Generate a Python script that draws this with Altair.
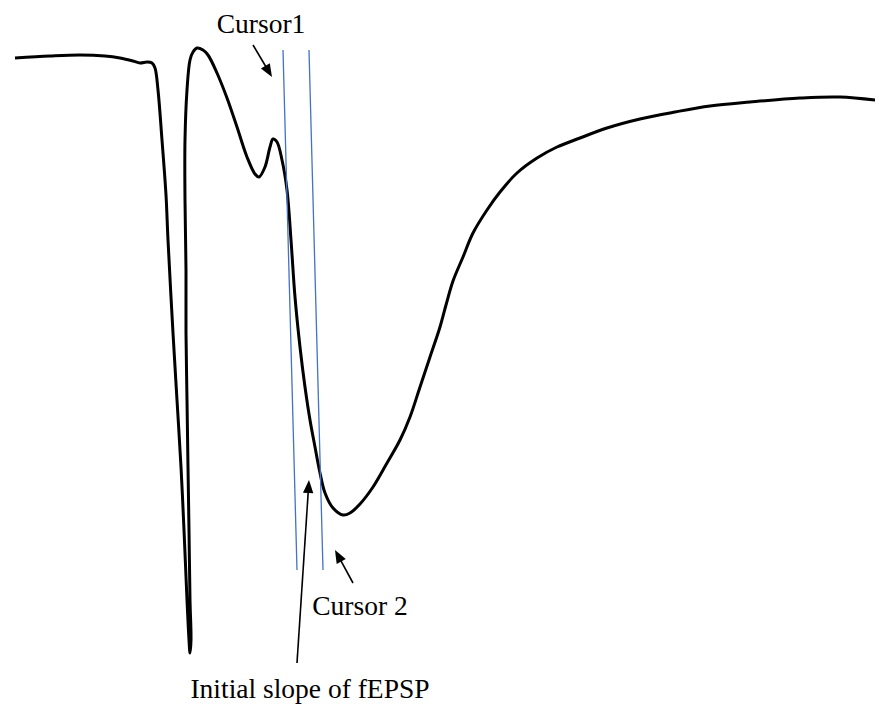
import math
import altair as alt
import pandas as pd

# ---- field potential trace (schematic units ~ picture pixels) ----
trace_x = [15, 50, 80, 105, 120, 133, 140, 147, 152, 155, 158, 162, 166, 168,
           173, 177, 181, 184, 187, 189, 190, 191, 190, 189, 188, 187, 186, 186,
           185, 185, 187, 190, 193, 197, 203, 208, 217, 227, 237, 247, 255, 259,
           265, 270, 273, 277, 282, 287, 291, 295, 300, 305, 310, 315, 320, 325,
           333, 343, 350, 360, 373, 387, 400, 410, 420, 430, 440, 446, 453, 463,
           473, 487, 500, 517, 537, 557, 580, 607, 640, 675, 710, 750, 800, 840,
           883]
trace_y = [58, 56, 55, 56, 58, 61, 63, 62, 63, 68, 90, 140, 195, 240,
           333, 400, 467, 530, 600, 640, 653, 640, 600, 530, 467, 400, 333, 270,
           200, 140, 90, 60, 52, 48, 50, 55, 73, 98, 127, 157, 174, 177,
           167, 147, 139, 142, 160, 190, 240, 297, 347, 387, 420, 447, 473, 493,
           508, 515, 513, 504, 487, 463, 440, 417, 387, 357, 327, 305, 281, 257,
           233, 210, 192, 173, 158, 147, 138, 128, 119, 112, 106, 102, 98, 97,
           101]

# ---- cursors ----
cursor_names = ["Cursor1", "Cursor 2"]
cursor_x_top = [283, 309]
cursor_y_top = [50, 50]
cursor_x_bottom = [297, 323]
cursor_y_bottom = [570, 570]

# ---- labels ----
label_text = ["Cursor1", "Cursor 2", "Initial slope of fEPSP"]
label_x = [261, 360, 310]
label_y = [33, 615, 698]

# ---- arrows (tail -> tip) ----
arrow_tail_x = [253, 353, 297]
arrow_tail_y = [45, 583, 663]
arrow_tip_x = [272, 335, 309]
arrow_tip_y = [77, 550, 480]

W, H = 867, 696
M = 8
HEAD_HALF = 6.5

trace = pd.DataFrame({"i": range(len(trace_x)), "x": trace_x, "y": trace_y})
cursors = pd.DataFrame({"name": cursor_names, "x": cursor_x_top, "y": cursor_y_top,
                        "x2": cursor_x_bottom, "y2": cursor_y_bottom})
labels = pd.DataFrame({"t": label_text, "x": label_x, "y": label_y})

shafts, heads = [], []
for tx, ty, px, py in zip(arrow_tail_x, arrow_tail_y, arrow_tip_x, arrow_tip_y):
    dx, dy = px - tx, py - ty
    L = math.hypot(dx, dy)
    ux, uy = dx / L, dy / L
    ang = math.degrees(math.atan2(ux, -uy)) % 360
    shafts.append({"x": tx, "y": ty, "x2": px - ux * 2 * HEAD_HALF * 0.85,
                   "y2": py - uy * 2 * HEAD_HALF * 0.85})
    heads.append({"x": px - ux * HEAD_HALF, "y": py - uy * HEAD_HALF, "a": ang})
shafts = pd.DataFrame(shafts)
heads = pd.DataFrame(heads)

xs = alt.Scale(domain=[M, M + W], nice=False, zero=False)
ys = alt.Scale(domain=[M, M + H], nice=False, zero=False, reverse=True)
X = lambda f: alt.X(f, type="quantitative", scale=xs, axis=None)
Y = lambda f: alt.Y(f, type="quantitative", scale=ys, axis=None)

line = alt.Chart(trace).mark_line(color="black", strokeWidth=3,
                                  interpolate="catmull-rom").encode(
    x=X("x"), y=Y("y"), order=alt.Order("i:Q"))

cur = alt.Chart(cursors).mark_rule(color="#4472c4", strokeWidth=1.3).encode(
    x=X("x"), y=Y("y"), x2="x2", y2="y2")

shaft = alt.Chart(shafts).mark_rule(color="black", strokeWidth=1.6).encode(
    x=X("x"), y=Y("y"), x2="x2", y2="y2")

head = alt.Chart(heads).mark_point(
    shape="M0,-1L0.8,1L-0.8,1Z", filled=True, color="black", opacity=1,
    size=(2 * HEAD_HALF) ** 2).encode(
    x=X("x"), y=Y("y"), angle=alt.Angle("a:Q", scale=None))

text = alt.Chart(labels).mark_text(font="Liberation Serif", fontSize=27.5,
                                   color="black", align="center",
                                   baseline="alphabetic").encode(
    x=X("x"), y=Y("y"), text="t:N")

chart = alt.layer(line, cur, shaft, head, text).properties(
    width=W, height=H, padding=0, autosize=alt.AutoSizeParams(type="none")
).configure_view(stroke=None)

chart.save("out.html", embed_options={"renderer": "svg", "actions": False})
